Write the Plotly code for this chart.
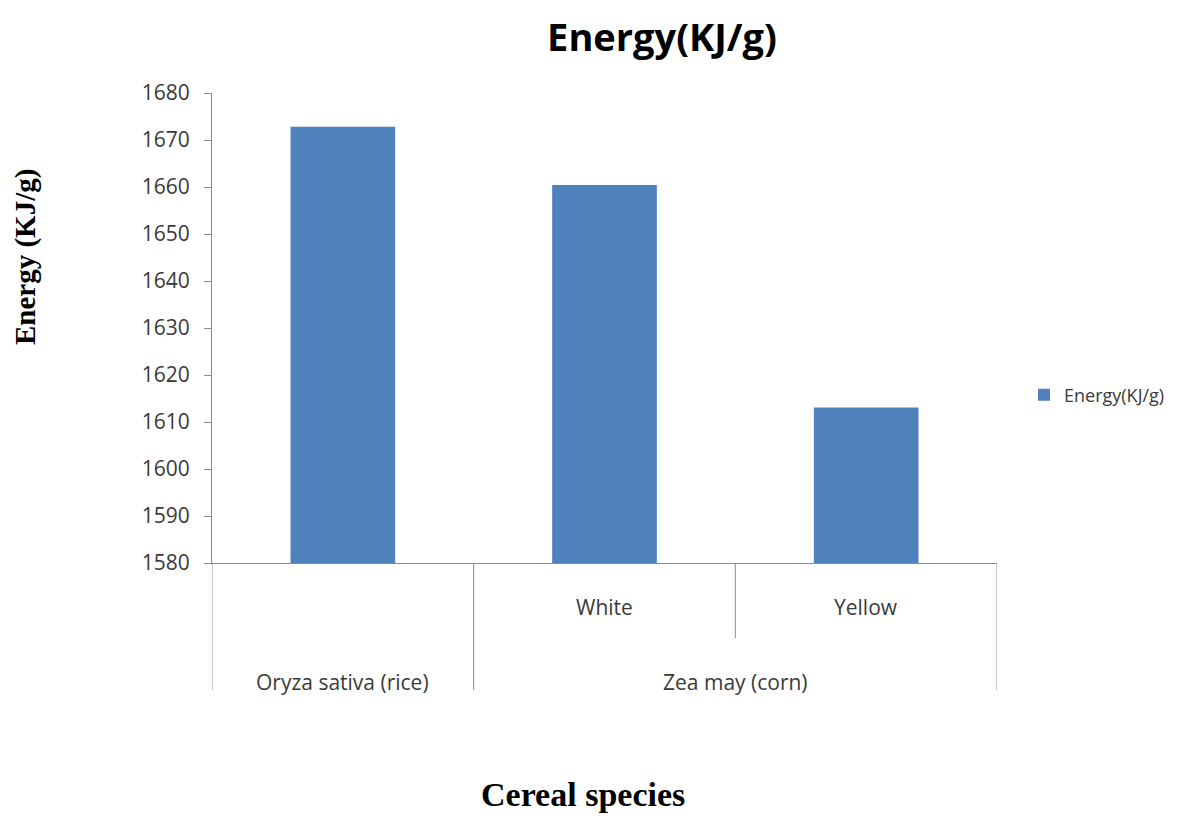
import plotly.graph_objects as go

categories = ["Oryza sativa (rice)", "White", "Yellow"]
inner_labels = ["", "White", "Yellow"]
group_labels = ["Oryza sativa (rice)", "Zea may (corn)"]
group_spans = [(0, 0), (1, 2)]
energy = [1672.8, 1660.4, 1613.1]
tick_vals = list(range(1580, 1681, 10))

W, H = 1200, 818
L, R, T, B = 212, 203, 93, 255
pw = W - L - R
ph = H - T - B

def py(pix):
    return (H - B - pix) / ph

def px(pix):
    return (pix - L) / pw

fig = go.Figure()
fig.add_trace(go.Bar(x=categories, y=energy, name="Energy(KJ/g)",
                     marker=dict(color="#4F81BD", line=dict(width=0)), width=0.4))

axis_col = "#8c8c8c"
text_col = "#3a3a3a"
shapes = []
edges = [-0.5, 0.5, 1.5, 2.5]
depth = {-0.5: py(690), 0.5: py(690), 1.5: py(638), 2.5: py(690)}
for e in edges:
    shapes.append(dict(type="line", xref="x", yref="paper", x0=e, x1=e,
                       y0=0, y1=depth[e], line=dict(color=axis_col, width=1)))

cat_font = dict(family="Open Sans", size=21, color=text_col)
annotations = []
for i, lab in enumerate(inner_labels):
    if lab:
        annotations.append(dict(x=categories[i], y=py(607), xref="x", yref="paper",
                                text=lab, showarrow=False, yanchor="middle", xanchor="center",
                                font=cat_font))
for lab, (a, b) in zip(group_labels, group_spans):
    annotations.append(dict(x=(a + b) / 2, y=py(682), xref="x", yref="paper",
                            text=lab, showarrow=False, yanchor="middle", xanchor="center",
                            font=cat_font))
annotations.append(dict(x=px(25), y=py(257), xref="paper", yref="paper",
                        text="<b>Energy (KJ/g)</b>", showarrow=False, textangle=-90,
                        xanchor="center", yanchor="middle",
                        font=dict(family="Liberation Serif", size=29, color="black")))
annotations.append(dict(x=px(583), y=py(794), xref="paper", yref="paper",
                        text="<b>Cereal species</b>", showarrow=False,
                        xanchor="center", yanchor="middle",
                        font=dict(family="Liberation Serif", size=34, color="black")))

fig.update_layout(
    width=W, height=H,
    margin=dict(l=L, r=R, t=T, b=B),
    paper_bgcolor="white", plot_bgcolor="white",
    title=dict(text="<b>Energy(KJ/g)</b>", x=662 / W, xanchor="center",
               y=1 - 38 / H, yanchor="middle",
               font=dict(family="Open Sans", size=38, color="black")),
    showlegend=True,
    legend=dict(x=px(1024), y=py(395), xanchor="left", yanchor="middle",
                font=dict(family="Open Sans", size=18, color=text_col), itemwidth=30),
    xaxis=dict(showticklabels=False, showline=True, linecolor=axis_col, ticks="",
               showgrid=False, range=[-0.5, 2.5]),
    yaxis=dict(range=[1580, 1680], tickvals=tick_vals, showline=True, linecolor=axis_col,
               ticks="outside", ticklen=7, tickcolor=axis_col, showgrid=False, zeroline=False,
               ticklabelstandoff=10,
               tickfont=dict(family="Open Sans", size=21, color=text_col)),
    shapes=shapes, annotations=annotations, bargap=0.6,
)
fig.write_html("out.html")
